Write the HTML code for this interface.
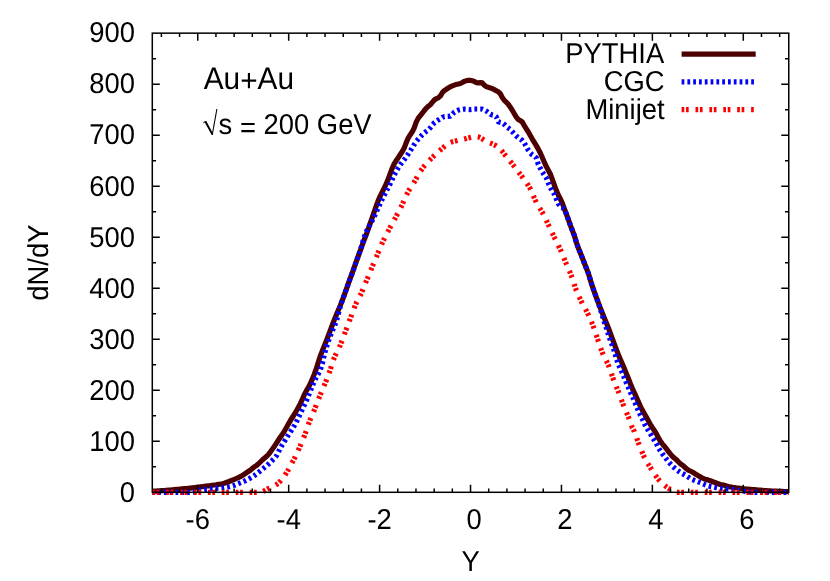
<!DOCTYPE html>
<html><head><meta charset="utf-8"><title>dN/dY</title>
<style>html,body{margin:0;padding:0;background:#fff;}svg{display:block;will-change:transform;}text{font-family:"Liberation Sans",sans-serif;fill:#000;text-rendering:geometricPrecision;}</style></head><body>
<svg width="830" height="581" viewBox="0 0 830 581">
<rect x="0" y="0" width="830" height="581" fill="#ffffff"/>
<g fill="none" stroke-width="5.20" stroke-linejoin="round">
<path d="M152.3,491.4 L154.3,491.2 L156.3,491.1 L158.3,490.9 L160.3,490.8 L162.3,490.6 L164.3,490.5 L166.3,490.3 L168.3,490.1 L170.3,490.0 L172.3,489.8 L174.3,489.6 L176.3,489.4 L178.3,489.3 L180.3,489.1 L182.3,488.9 L184.3,488.7 L186.3,488.5 L188.3,488.3 L190.3,488.1 L192.3,487.9 L194.3,487.7 L196.3,487.4 L198.3,487.2 L200.3,486.9 L202.3,486.7 L204.3,486.4 L206.3,486.1 L208.3,485.8 L210.3,485.6 L212.3,485.3 L214.3,485.0 L216.3,484.8 L218.3,484.4 L220.3,484.1 L222.3,483.7 L224.3,483.2 L226.3,482.5 L228.3,481.8 L230.3,481.0 L232.3,480.2 L234.3,479.4 L236.3,478.5 L238.3,477.6 L240.3,476.6 L242.3,475.5 L244.3,474.2 L246.3,472.8 L248.3,471.5 L250.3,470.2 L252.3,468.5 L254.3,466.9 L256.3,465.6 L258.3,464.0 L260.3,462.0 L262.3,460.0 L264.3,458.2 L266.3,456.6 L268.3,454.7 L270.3,452.1 L272.3,449.3 L274.3,446.4 L276.3,443.3 L278.3,440.3 L280.3,437.3 L282.3,434.4 L284.3,431.3 L286.3,427.9 L288.3,424.1 L290.3,420.7 L292.3,417.5 L294.3,414.4 L296.3,411.0 L298.3,407.5 L300.3,403.7 L302.3,399.4 L304.3,394.7 L306.3,390.9 L308.3,387.5 L310.3,383.7 L312.3,379.1 L314.3,374.1 L316.3,368.6 L318.3,362.3 L320.3,356.1 L322.3,350.8 L324.3,346.0 L326.3,340.9 L328.3,335.7 L330.3,330.4 L332.3,325.0 L334.3,319.9 L336.3,315.0 L338.3,310.2 L340.3,305.5 L342.3,300.4 L344.3,295.0 L346.3,289.4 L348.3,283.7 L350.3,278.1 L352.3,272.8 L354.3,267.2 L356.3,261.5 L358.3,256.0 L360.3,250.6 L362.3,244.8 L364.3,239.5 L366.3,234.5 L368.3,228.9 L370.3,223.1 L372.3,217.4 L374.3,211.7 L376.3,205.8 L378.3,200.3 L380.3,195.9 L382.3,191.8 L384.3,187.8 L386.3,183.7 L388.3,178.7 L390.3,173.4 L392.3,168.0 L394.3,163.6 L396.3,160.5 L398.3,157.6 L400.3,154.5 L402.3,151.5 L404.3,147.8 L406.3,142.4 L408.3,137.8 L410.3,134.7 L412.3,131.8 L414.3,127.6 L416.3,121.9 L418.3,118.1 L420.3,115.6 L422.3,113.1 L424.3,110.5 L426.3,108.1 L428.3,106.3 L430.3,104.7 L432.3,102.4 L434.3,100.0 L436.3,98.6 L438.3,97.8 L440.3,96.1 L442.3,92.7 L444.3,90.7 L446.3,89.3 L448.3,88.0 L450.3,86.8 L452.3,85.9 L454.3,85.1 L456.3,84.4 L458.3,84.0 L460.3,83.5 L462.3,82.5 L464.3,81.4 L466.3,80.7 L468.3,80.3 L470.3,80.4 L472.3,80.7 L474.3,81.4 L476.3,82.6 L478.3,82.8 L480.3,82.6 L482.3,82.9 L484.3,85.2 L486.3,86.6 L488.3,87.3 L490.3,87.9 L492.3,88.7 L494.3,89.6 L496.3,90.7 L498.3,91.8 L500.3,93.7 L502.3,97.5 L504.3,100.3 L506.3,102.2 L508.3,104.3 L510.3,107.2 L512.3,110.3 L514.3,113.7 L516.3,117.1 L518.3,119.5 L520.3,120.6 L522.3,122.0 L524.3,125.7 L526.3,128.9 L528.3,132.0 L530.3,135.5 L532.3,139.1 L534.3,142.3 L536.3,145.6 L538.3,149.1 L540.3,153.0 L542.3,157.5 L544.3,162.2 L546.3,166.6 L548.3,170.3 L550.3,174.0 L552.3,179.4 L554.3,184.9 L556.3,190.3 L558.3,195.0 L560.3,198.8 L562.3,203.2 L564.3,208.6 L566.3,213.9 L568.3,219.4 L570.3,225.1 L572.3,230.3 L574.3,235.4 L576.3,242.1 L578.3,248.0 L580.3,252.8 L582.3,257.8 L584.3,263.0 L586.3,268.0 L588.3,273.1 L590.3,279.7 L592.3,286.2 L594.3,291.9 L596.3,297.4 L598.3,302.7 L600.3,307.9 L602.3,313.0 L604.3,318.0 L606.3,322.7 L608.3,327.7 L610.3,333.1 L612.3,338.6 L614.3,344.0 L616.3,349.3 L618.3,354.5 L620.3,359.3 L622.3,363.8 L624.3,368.5 L626.3,373.4 L628.3,378.3 L630.3,383.5 L632.3,388.3 L634.3,392.7 L636.3,397.1 L638.3,401.6 L640.3,406.1 L642.3,410.1 L644.3,413.6 L646.3,417.0 L648.3,420.7 L650.3,424.3 L652.3,427.5 L654.3,430.4 L656.3,433.6 L658.3,437.4 L660.3,441.0 L662.3,443.8 L664.3,446.2 L666.3,448.7 L668.3,451.3 L670.3,453.9 L672.3,456.2 L674.3,458.0 L676.3,459.6 L678.3,461.7 L680.3,463.8 L682.3,465.1 L684.3,466.8 L686.3,468.6 L688.3,470.1 L690.3,471.0 L692.3,472.0 L694.3,473.3 L696.3,474.6 L698.3,475.8 L700.3,476.9 L702.3,478.0 L704.3,478.9 L706.3,479.5 L708.3,480.1 L710.3,480.8 L712.3,481.5 L714.3,482.3 L716.3,483.0 L718.3,483.8 L720.3,484.5 L722.3,484.9 L724.3,485.3 L726.3,485.9 L728.3,486.5 L730.3,486.9 L732.3,487.3 L734.3,487.6 L736.3,487.9 L738.3,488.1 L740.3,488.3 L742.3,488.6 L744.3,488.8 L746.3,489.0 L748.3,489.2 L750.3,489.4 L752.3,489.6 L754.3,489.7 L756.3,489.9 L758.3,490.1 L760.3,490.2 L762.3,490.4 L764.3,490.6 L766.3,490.7 L768.3,490.8 L770.3,490.9 L772.3,491.0 L774.3,491.1 L776.3,491.2 L778.3,491.3 L780.3,491.4 L782.3,491.4 L784.3,491.5 L786.3,491.6 L788.3,491.6 L788.8,491.6" stroke="#4d0000"/>
<path d="M152.3,492.3 L154.3,492.3 L156.3,492.3 L158.3,492.3 L160.3,492.3 L162.3,492.3 L164.3,492.3 L166.3,492.3 L168.3,492.3 L170.3,492.3 L172.3,492.3 L174.3,492.3 L176.3,492.3 L178.3,492.3 L180.3,492.3 L182.3,492.3 L184.3,492.3 L186.3,492.3 L188.3,492.3 L190.3,492.3 L192.3,492.3 L194.3,492.1 L196.3,491.4 L198.3,490.6 L200.3,490.1 L202.3,489.9 L204.3,489.6 L206.3,489.4 L208.3,489.2 L210.3,488.9 L212.3,488.7 L214.3,488.5 L216.3,488.3 L218.3,488.1 L220.3,488.0 L222.3,487.8 L224.3,487.5 L226.3,487.2 L228.3,486.9 L230.3,486.4 L232.3,485.9 L234.3,485.3 L236.3,484.5 L238.3,483.7 L240.3,482.9 L242.3,482.1 L244.3,481.2 L246.3,480.2 L248.3,479.2 L250.3,478.1 L252.3,476.9 L254.3,475.6 L256.3,474.1 L258.3,472.5 L260.3,470.9 L262.3,469.3 L264.3,467.7 L266.3,466.1 L268.3,464.3 L270.3,462.4 L272.3,460.4 L274.3,458.5 L276.3,456.0 L278.3,452.3 L280.3,448.2 L282.3,444.8 L284.3,441.6 L286.3,438.4 L288.3,435.2 L290.3,432.1 L292.3,428.9 L294.3,425.6 L296.3,422.1 L298.3,418.0 L300.3,413.6 L302.3,409.3 L304.3,405.2 L306.3,400.9 L308.3,396.0 L310.3,391.0 L312.3,386.1 L314.3,381.3 L316.3,377.3 L318.3,373.9 L320.3,369.8 L322.3,363.7 L324.3,354.9 L326.3,347.5 L328.3,341.4 L330.3,335.9 L332.3,330.9 L334.3,326.3 L336.3,321.5 L338.3,314.0 L340.3,306.5 L342.3,300.3 L344.3,294.9 L346.3,289.4 L348.3,283.7 L350.3,278.1 L352.3,272.8 L354.3,267.2 L356.3,261.5 L358.3,256.0 L360.3,250.3 L362.3,243.4 L364.3,236.9 L366.3,231.8 L368.3,227.5 L370.3,224.0 L372.3,220.5 L374.3,216.4 L376.3,212.1 L378.3,207.7 L380.3,203.3 L382.3,199.0 L384.3,195.0 L386.3,191.1 L388.3,187.5 L390.3,183.5 L392.3,179.1 L394.3,174.9 L396.3,171.4 L398.3,167.8 L400.3,164.7 L402.3,162.1 L404.3,159.6 L406.3,157.0 L408.3,153.8 L410.3,150.7 L412.3,147.7 L414.3,144.4 L416.3,141.5 L418.3,139.1 L420.3,136.9 L422.3,134.7 L424.3,132.8 L426.3,131.3 L428.3,129.9 L430.3,127.8 L432.3,125.1 L434.3,122.8 L436.3,121.3 L438.3,120.0 L440.3,118.8 L442.3,117.4 L444.3,116.6 L446.3,116.4 L448.3,116.3 L450.3,116.1 L452.3,114.3 L454.3,112.2 L456.3,111.0 L458.3,110.1 L460.3,109.6 L462.3,109.3 L464.3,109.1 L466.3,109.2 L468.3,109.5 L470.3,109.6 L472.3,109.4 L474.3,109.1 L476.3,109.0 L478.3,109.0 L480.3,109.0 L482.3,109.1 L484.3,109.9 L486.3,111.0 L488.3,112.5 L490.3,114.2 L492.3,115.0 L494.3,115.4 L496.3,116.9 L498.3,121.7 L500.3,122.4 L502.3,122.9 L504.3,124.4 L506.3,126.6 L508.3,128.0 L510.3,129.5 L512.3,131.7 L514.3,134.1 L516.3,136.0 L518.3,137.7 L520.3,139.1 L522.3,140.5 L524.3,143.0 L526.3,146.5 L528.3,150.2 L530.3,152.8 L532.3,154.8 L534.3,156.0 L536.3,157.9 L538.3,164.4 L540.3,168.2 L542.3,171.9 L544.3,175.0 L546.3,177.9 L548.3,183.0 L550.3,187.5 L552.3,191.1 L554.3,194.2 L556.3,198.9 L558.3,203.7 L560.3,206.0 L562.3,207.3 L564.3,209.2 L566.3,213.7 L568.3,219.4 L570.3,225.0 L572.3,230.3 L574.3,235.4 L576.3,242.1 L578.3,248.0 L580.3,252.8 L582.3,257.8 L584.3,263.0 L586.3,268.0 L588.3,273.1 L590.3,279.7 L592.3,286.2 L594.3,291.9 L596.3,297.4 L598.3,302.9 L600.3,309.2 L602.3,315.2 L604.3,322.1 L606.3,327.8 L608.3,334.3 L610.3,340.3 L612.3,345.5 L614.3,351.2 L616.3,358.0 L618.3,364.3 L620.3,368.4 L622.3,372.8 L624.3,377.8 L626.3,382.7 L628.3,387.3 L630.3,392.2 L632.3,396.2 L634.3,400.9 L636.3,405.7 L638.3,410.6 L640.3,415.0 L642.3,419.0 L644.3,423.5 L646.3,427.5 L648.3,430.5 L650.3,433.6 L652.3,437.3 L654.3,440.2 L656.3,443.4 L658.3,447.6 L660.3,450.8 L662.3,453.7 L664.3,456.2 L666.3,458.9 L668.3,461.4 L670.3,463.8 L672.3,465.9 L674.3,467.8 L676.3,469.6 L678.3,471.0 L680.3,472.3 L682.3,473.5 L684.3,474.6 L686.3,475.8 L688.3,477.1 L690.3,478.4 L692.3,479.5 L694.3,480.3 L696.3,481.1 L698.3,481.9 L700.3,482.7 L702.3,483.5 L704.3,484.4 L706.3,485.2 L708.3,485.9 L710.3,486.4 L712.3,486.8 L714.3,487.3 L716.3,487.7 L718.3,488.1 L720.3,488.4 L722.3,488.6 L724.3,488.8 L726.3,489.0 L728.3,489.1 L730.3,489.3 L732.3,489.5 L734.3,489.7 L736.3,490.0 L738.3,490.3 L740.3,490.6 L742.3,490.9 L744.3,491.3 L746.3,491.7 L748.3,492.0 L750.3,492.2 L752.3,492.3 L754.3,492.3 L756.3,492.3 L758.3,492.3 L760.3,492.3 L762.3,492.3 L764.3,492.3 L766.3,492.3 L768.3,492.3 L770.3,492.3 L772.3,492.3 L774.3,492.3 L776.3,492.3 L778.3,492.3 L780.3,492.3 L782.3,492.3 L784.3,492.3 L786.3,492.3 L788.3,492.3 L788.8,492.3" stroke="#0000ff" stroke-dasharray="2.75 3.05"/>
<path d="M152.3,492.3 L154.3,492.3 L156.3,492.3 L158.3,492.3 L160.3,492.3 L162.3,492.3 L164.3,492.3 L166.3,492.3 L168.3,492.3 L170.3,492.3 L172.3,492.3 L174.3,492.3 L176.3,492.3 L178.3,492.3 L180.3,492.3 L182.3,492.3 L184.3,492.3 L186.3,492.3 L188.3,492.3 L190.3,492.3 L192.3,492.3 L194.3,492.3 L196.3,492.3 L198.3,492.3 L200.3,492.3 L202.3,492.3 L204.3,492.3 L206.3,492.3 L208.3,492.3 L210.3,492.3 L212.3,492.3 L214.3,492.3 L216.3,492.3 L218.3,492.3 L220.3,492.3 L222.3,492.3 L224.3,492.3 L226.3,492.3 L228.3,492.3 L230.3,492.3 L232.3,492.3 L234.3,492.3 L236.3,492.3 L238.3,492.3 L240.3,492.3 L242.3,492.3 L244.3,492.3 L246.3,492.3 L248.3,492.3 L250.3,492.3 L252.3,492.3 L254.3,492.3 L256.3,492.3 L258.3,492.3 L260.3,492.3 L262.3,492.0 L264.3,490.9 L266.3,489.6 L268.3,488.6 L270.3,487.7 L272.3,486.8 L274.3,485.9 L276.3,484.7 L278.3,483.2 L280.3,481.2 L282.3,478.8 L284.3,476.0 L286.3,473.1 L288.3,469.8 L290.3,466.2 L292.3,462.4 L294.3,458.6 L296.3,454.5 L298.3,450.2 L300.3,445.7 L302.3,441.0 L304.3,436.1 L306.3,430.7 L308.3,424.6 L310.3,419.3 L312.3,414.7 L314.3,410.1 L316.3,404.9 L318.3,399.6 L320.3,394.7 L322.3,390.0 L324.3,385.3 L326.3,380.4 L328.3,375.2 L330.3,369.6 L332.3,363.2 L334.3,357.6 L336.3,353.3 L338.3,349.4 L340.3,345.1 L342.3,339.9 L344.3,334.4 L346.3,329.1 L348.3,323.8 L350.3,318.5 L352.3,313.2 L354.3,307.7 L356.3,302.9 L358.3,299.0 L360.3,295.3 L362.3,290.9 L364.3,286.1 L366.3,281.1 L368.3,276.3 L370.3,271.4 L372.3,266.6 L374.3,261.9 L376.3,257.2 L378.3,252.3 L380.3,247.4 L382.3,242.8 L384.3,238.7 L386.3,234.7 L388.3,230.9 L390.3,227.1 L392.3,223.5 L394.3,219.8 L396.3,216.1 L398.3,212.3 L400.3,208.5 L402.3,204.4 L404.3,199.9 L406.3,195.4 L408.3,191.5 L410.3,188.2 L412.3,185.2 L414.3,182.0 L416.3,178.4 L418.3,174.7 L420.3,171.3 L422.3,168.5 L424.3,166.0 L426.3,163.7 L428.3,161.6 L430.3,159.5 L432.3,157.5 L434.3,155.5 L436.3,153.6 L438.3,151.8 L440.3,150.1 L442.3,148.4 L444.3,146.6 L446.3,145.0 L448.3,143.6 L450.3,142.6 L452.3,141.8 L454.3,141.3 L456.3,140.8 L458.3,140.3 L460.3,139.9 L462.3,139.5 L464.3,139.1 L466.3,138.5 L468.3,137.9 L470.3,137.4 L472.3,136.9 L474.3,136.5 L476.3,136.4 L478.3,136.8 L480.3,137.7 L482.3,138.9 L484.3,140.3 L486.3,141.5 L488.3,142.4 L490.3,143.1 L492.3,143.9 L494.3,144.8 L496.3,145.8 L498.3,147.2 L500.3,149.2 L502.3,151.5 L504.3,154.0 L506.3,156.4 L508.3,158.8 L510.3,161.3 L512.3,163.9 L514.3,166.5 L516.3,169.1 L518.3,171.7 L520.3,174.3 L522.3,177.0 L524.3,179.8 L526.3,182.5 L528.3,185.4 L530.3,188.8 L532.3,193.0 L534.3,198.0 L536.3,202.4 L538.3,205.9 L540.3,209.0 L542.3,212.3 L544.3,216.1 L546.3,220.3 L548.3,224.7 L550.3,228.9 L552.3,233.1 L554.3,237.3 L556.3,241.3 L558.3,245.3 L560.3,249.5 L562.3,254.0 L564.3,258.9 L566.3,263.8 L568.3,268.4 L570.3,273.0 L572.3,278.1 L574.3,284.4 L576.3,290.3 L578.3,295.0 L580.3,299.3 L582.3,303.4 L584.3,307.2 L586.3,310.7 L588.3,314.6 L590.3,319.0 L592.3,323.8 L594.3,329.1 L596.3,335.1 L598.3,341.1 L600.3,347.0 L602.3,352.6 L604.3,357.0 L606.3,360.7 L608.3,365.0 L610.3,370.2 L612.3,376.2 L614.3,381.8 L616.3,386.7 L618.3,391.4 L620.3,396.6 L622.3,402.2 L624.3,407.4 L626.3,412.0 L628.3,416.6 L630.3,422.4 L632.3,427.7 L634.3,431.5 L636.3,436.8 L638.3,442.6 L640.3,447.9 L642.3,452.7 L644.3,457.1 L646.3,460.9 L648.3,464.3 L650.3,467.5 L652.3,470.6 L654.3,473.7 L656.3,476.6 L658.3,479.3 L660.3,481.5 L662.3,483.4 L664.3,485.2 L666.3,486.8 L668.3,488.2 L670.3,489.3 L672.3,490.2 L674.3,491.2 L676.3,492.1 L678.3,492.3 L680.3,492.3 L682.3,492.3 L684.3,492.3 L686.3,492.3 L688.3,492.3 L690.3,492.3 L692.3,492.3 L694.3,492.3 L696.3,492.3 L698.3,492.3 L700.3,492.3 L702.3,492.3 L704.3,492.3 L706.3,492.3 L708.3,492.3 L710.3,492.3 L712.3,492.3 L714.3,492.3 L716.3,492.3 L718.3,492.3 L720.3,492.3 L722.3,492.3 L724.3,492.3 L726.3,492.3 L728.3,492.3 L730.3,492.3 L732.3,492.3 L734.3,492.3 L736.3,492.3 L738.3,492.3 L740.3,492.3 L742.3,492.3 L744.3,492.3 L746.3,492.3 L748.3,492.3 L750.3,492.3 L752.3,492.3 L754.3,492.3 L756.3,492.3 L758.3,492.3 L760.3,492.3 L762.3,492.3 L764.3,492.3 L766.3,492.3 L768.3,492.3 L770.3,492.3 L772.3,492.3 L774.3,492.3 L776.3,492.3 L778.3,492.3 L780.3,492.3 L782.3,492.3 L784.3,492.3 L786.3,492.3 L788.3,492.3 L788.8,492.3" stroke="#ff0000" stroke-dasharray="2.7 1.7 2.7 6.8"/>
</g>
<g fill="none" stroke-width="5.20">
<path d="M681.6,54.2 L755.7,54.2" stroke="#4d0000"/>
<path d="M681.6,81.8 L755.7,81.8" stroke="#0000ff" stroke-dasharray="2.75 3.05"/>
<path d="M681.6,109.7 L754.4,109.7" stroke="#ff0000" stroke-dasharray="2.7 1.7 2.7 6.8"/>
</g>
<path d="M152.30,466.79 h3.75 M788.75,466.79 h-3.75 M152.30,441.28 h7.50 M788.75,441.28 h-7.50 M152.30,415.77 h3.75 M788.75,415.77 h-3.75 M152.30,390.27 h7.50 M788.75,390.27 h-7.50 M152.30,364.76 h3.75 M788.75,364.76 h-3.75 M152.30,339.25 h7.50 M788.75,339.25 h-7.50 M152.30,313.74 h3.75 M788.75,313.74 h-3.75 M152.30,288.23 h7.50 M788.75,288.23 h-7.50 M152.30,262.73 h3.75 M788.75,262.73 h-3.75 M152.30,237.22 h7.50 M788.75,237.22 h-7.50 M152.30,211.71 h3.75 M788.75,211.71 h-3.75 M152.30,186.20 h7.50 M788.75,186.20 h-7.50 M152.30,160.69 h3.75 M788.75,160.69 h-3.75 M152.30,135.18 h7.50 M788.75,135.18 h-7.50 M152.30,109.68 h3.75 M788.75,109.68 h-3.75 M152.30,84.17 h7.50 M788.75,84.17 h-7.50 M152.30,58.66 h3.75 M788.75,58.66 h-3.75 M161.39,492.30 v-3.75 M161.39,33.15 v3.75 M179.58,492.30 v-3.75 M179.58,33.15 v3.75 M197.76,492.30 v-7.50 M197.76,33.15 v7.50 M215.94,492.30 v-3.75 M215.94,33.15 v3.75 M234.13,492.30 v-3.75 M234.13,33.15 v3.75 M252.31,492.30 v-3.75 M252.31,33.15 v3.75 M270.50,492.30 v-3.75 M270.50,33.15 v3.75 M288.68,492.30 v-7.50 M288.68,33.15 v7.50 M306.87,492.30 v-3.75 M306.87,33.15 v3.75 M325.05,492.30 v-3.75 M325.05,33.15 v3.75 M343.24,492.30 v-3.75 M343.24,33.15 v3.75 M361.42,492.30 v-3.75 M361.42,33.15 v3.75 M379.60,492.30 v-7.50 M379.60,33.15 v7.50 M397.79,492.30 v-3.75 M397.79,33.15 v3.75 M415.97,492.30 v-3.75 M415.97,33.15 v3.75 M434.16,492.30 v-3.75 M434.16,33.15 v3.75 M452.34,492.30 v-3.75 M452.34,33.15 v3.75 M470.53,492.30 v-7.50 M470.53,33.15 v7.50 M488.71,492.30 v-3.75 M488.71,33.15 v3.75 M506.89,492.30 v-3.75 M506.89,33.15 v3.75 M525.08,492.30 v-3.75 M525.08,33.15 v3.75 M543.26,492.30 v-3.75 M543.26,33.15 v3.75 M561.45,492.30 v-7.50 M561.45,33.15 v7.50 M579.63,492.30 v-3.75 M579.63,33.15 v3.75 M597.82,492.30 v-3.75 M597.82,33.15 v3.75 M616.00,492.30 v-3.75 M616.00,33.15 v3.75 M634.18,492.30 v-3.75 M634.18,33.15 v3.75 M652.37,492.30 v-7.50 M652.37,33.15 v7.50 M670.55,492.30 v-3.75 M670.55,33.15 v3.75 M688.74,492.30 v-3.75 M688.74,33.15 v3.75 M706.92,492.30 v-3.75 M706.92,33.15 v3.75 M725.11,492.30 v-3.75 M725.11,33.15 v3.75 M743.29,492.30 v-7.50 M743.29,33.15 v7.50 M761.47,492.30 v-3.75 M761.47,33.15 v3.75 M779.66,492.30 v-3.75 M779.66,33.15 v3.75" stroke="#000" stroke-width="1.50" fill="none"/>
<rect x="152.30" y="33.15" width="636.45" height="459.15" fill="none" stroke="#000" stroke-width="1.50"/>
<text transform="translate(135.00,501.60) scale(1,1.050)" font-size="27.40" text-anchor="end">0</text>
<text transform="translate(135.00,450.58) scale(1,1.050)" font-size="27.40" text-anchor="end">100</text>
<text transform="translate(135.00,399.57) scale(1,1.050)" font-size="27.40" text-anchor="end">200</text>
<text transform="translate(135.00,348.55) scale(1,1.050)" font-size="27.40" text-anchor="end">300</text>
<text transform="translate(135.00,297.53) scale(1,1.050)" font-size="27.40" text-anchor="end">400</text>
<text transform="translate(135.00,246.52) scale(1,1.050)" font-size="27.40" text-anchor="end">500</text>
<text transform="translate(135.00,195.50) scale(1,1.050)" font-size="27.40" text-anchor="end">600</text>
<text transform="translate(135.00,144.48) scale(1,1.050)" font-size="27.40" text-anchor="end">700</text>
<text transform="translate(135.00,93.47) scale(1,1.050)" font-size="27.40" text-anchor="end">800</text>
<text transform="translate(135.00,42.45) scale(1,1.050)" font-size="27.40" text-anchor="end">900</text>
<text transform="translate(197.76,529.35) scale(1,1.050)" font-size="27.40" text-anchor="middle">-6</text>
<text transform="translate(288.68,529.35) scale(1,1.050)" font-size="27.40" text-anchor="middle">-4</text>
<text transform="translate(379.60,529.35) scale(1,1.050)" font-size="27.40" text-anchor="middle">-2</text>
<text transform="translate(474.03,529.35) scale(1,1.050)" font-size="27.40" text-anchor="middle">0</text>
<text transform="translate(564.95,529.35) scale(1,1.050)" font-size="27.40" text-anchor="middle">2</text>
<text transform="translate(655.88,529.35) scale(1,1.050)" font-size="27.40" text-anchor="middle">4</text>
<text transform="translate(746.80,529.35) scale(1,1.050)" font-size="27.40" text-anchor="middle">6</text>
<text transform="translate(470.60,570.60) scale(1,1.050)" font-size="27.40" text-anchor="middle">Y</text>
<text transform="translate(48.30,262.60) rotate(-90) scale(1,1.050)" font-size="27.40" text-anchor="middle">dN/dY</text>
<text transform="translate(203.70,88.50) scale(1,1.050)" font-size="29.80">Au<tspan dy="2.3">+</tspan><tspan dy="-2.3">Au</tspan></text>
<g fill="none" stroke="#000" stroke-linecap="butt" stroke-linejoin="miter"><path d="M203.3,122.8 L205.7,121.4" stroke-width="1.0"/><path d="M205.3,121.2 L212.4,134.4" stroke-width="2.0"/><path d="M212.2,135.0 L216.9,109.0" stroke-width="1.1"/></g>
<text transform="translate(218.60,134.00) scale(1,1.050)" font-size="27.40">s <tspan dy="2.5">=</tspan><tspan dy="-2.5"> 200 GeV</tspan></text>
<text transform="translate(664.20,62.90) scale(1,1.050)" font-size="27.40" text-anchor="end">PYTHIA</text>
<text transform="translate(664.60,90.80) scale(1,1.050)" font-size="27.40" text-anchor="end">CGC</text>
<text transform="translate(664.60,118.70) scale(1,1.050)" font-size="27.40" text-anchor="end">Minijet</text>
</svg></body></html>
